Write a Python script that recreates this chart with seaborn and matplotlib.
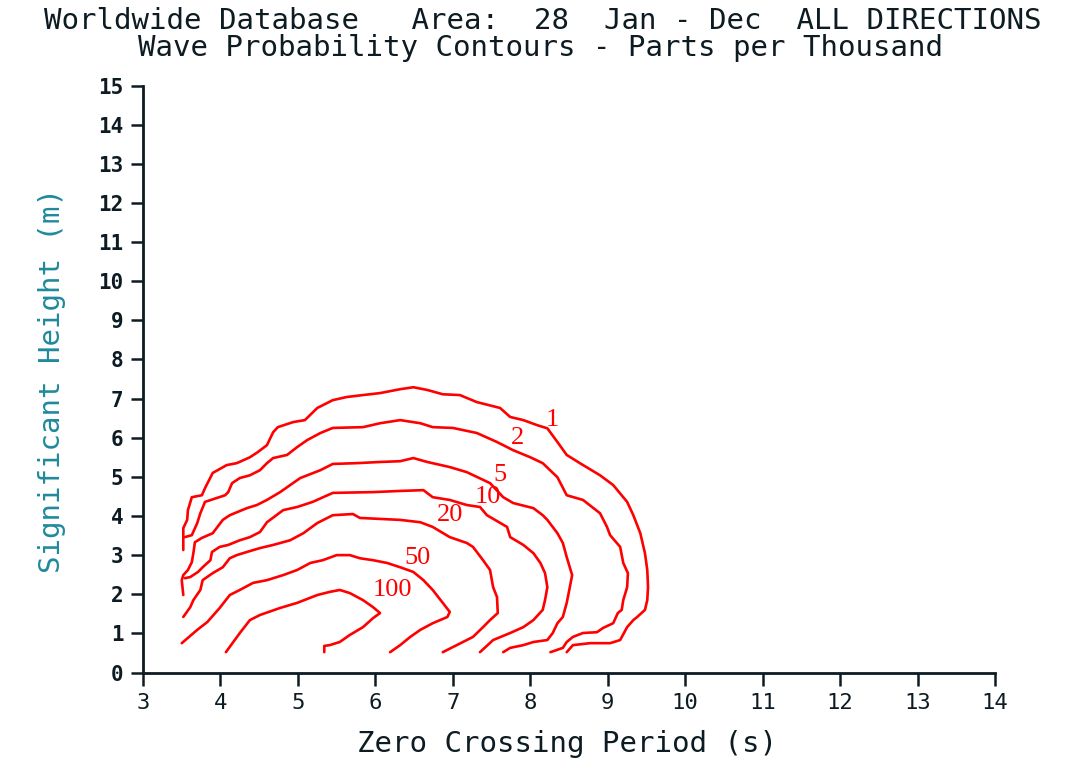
import pandas as pd
import seaborn as sns
import matplotlib
import matplotlib.pyplot as plt

sns.set_style('ticks')
matplotlib.rcParams['font.family'] = ['DejaVu Sans Mono']

# contour levels (parts per thousand)
levels = ['1', '2', '5', '10', '20', '50', '100']

# each contour traced as zero crossing period (s) / significant height (m)
t_1 = [3.52, 3.52, 3.52, 3.57, 3.58, 3.63, 3.76, 3.80, 3.90, 4.08, 4.21, 4.38, 4.48, 4.60,
       4.68, 4.74, 4.94, 5.09, 5.25, 5.45, 5.63, 5.84, 6.06, 6.32, 6.49, 6.67, 6.87, 7.09,
       7.31, 7.61, 7.74, 7.91, 8.09, 8.22, 8.35, 8.47, 8.64, 8.90, 9.07, 9.25, 9.33, 9.42,
       9.48, 9.51, 9.52, 9.51, 9.48, 9.38, 9.33, 9.25, 9.16, 9.03, 8.77, 8.55, 8.47]
h_1 = [3.13, 3.46, 3.69, 3.90, 4.15, 4.48, 4.53, 4.71, 5.10, 5.30, 5.35, 5.50, 5.63, 5.81,
       6.14, 6.27, 6.40, 6.45, 6.76, 6.96, 7.04, 7.09, 7.14, 7.24, 7.29, 7.22, 7.11, 7.09,
       6.91, 6.76, 6.53, 6.45, 6.32, 6.24, 5.89, 5.56, 5.35, 5.04, 4.79, 4.36, 4.02, 3.56,
       3.05, 2.62, 2.18, 1.85, 1.60, 1.42, 1.34, 1.16, 0.83, 0.75, 0.75, 0.70, 0.52]

t_2 = [3.54, 3.63, 3.70, 3.74, 3.80, 4.06, 4.10, 4.15, 4.25, 4.38, 4.51, 4.60, 4.68, 4.86,
       4.99, 5.12, 5.29, 5.45, 5.84, 6.06, 6.32, 6.58, 6.74, 7.00, 7.31, 7.57, 7.78, 8.00,
       8.16, 8.35, 8.47, 8.68, 8.90, 8.99, 9.03, 9.16, 9.20, 9.26, 9.25, 9.20, 9.18, 9.13,
       9.07, 8.94, 8.86, 8.68, 8.55, 8.47, 8.42, 8.26]
h_2 = [3.46, 3.51, 3.82, 4.07, 4.36, 4.53, 4.61, 4.84, 4.97, 5.04, 5.17, 5.35, 5.48, 5.56,
       5.76, 5.94, 6.12, 6.25, 6.27, 6.37, 6.45, 6.37, 6.27, 6.25, 6.12, 5.89, 5.68, 5.50,
       5.35, 4.99, 4.53, 4.41, 4.07, 3.72, 3.51, 3.21, 2.80, 2.54, 2.18, 1.85, 1.60, 1.52,
       1.26, 1.14, 1.03, 1.01, 0.91, 0.78, 0.63, 0.52]

t_5 = [3.52, 3.50, 3.52, 3.58, 3.63, 3.65, 3.67, 3.76, 3.90, 3.93, 4.03, 4.12, 4.34, 4.47,
       4.60, 4.77, 5.03, 5.29, 5.45, 5.76, 6.06, 6.32, 6.49, 6.67, 6.96, 7.18, 7.48, 7.65,
       7.78, 8.04, 8.16, 8.22, 8.35, 8.42, 8.47, 8.54, 8.51, 8.47, 8.42, 8.35, 8.29, 8.22,
       8.04, 7.91, 7.74, 7.65]
h_5 = [1.98, 2.36, 2.49, 2.62, 2.82, 3.05, 3.33, 3.44, 3.56, 3.64, 3.90, 4.02, 4.20, 4.28,
       4.41, 4.61, 4.97, 5.17, 5.33, 5.35, 5.38, 5.40, 5.48, 5.38, 5.25, 5.12, 4.84, 4.48,
       4.33, 4.20, 4.02, 3.90, 3.56, 3.31, 2.95, 2.49, 2.18, 1.78, 1.42, 1.26, 1.01, 0.83,
       0.78, 0.70, 0.63, 0.52]

t_10 = [3.54, 3.61, 3.71, 3.77, 3.87, 3.89, 3.99, 4.10, 4.25, 4.38, 4.51, 4.60, 4.81, 4.99,
        5.19, 5.45, 5.97, 6.32, 6.62, 6.74, 6.96, 7.18, 7.35, 7.44, 7.70, 7.74, 7.91, 8.04,
        8.13, 8.19, 8.22, 8.19, 8.16, 8.04, 7.91, 7.74, 7.52, 7.35]
h_10 = [2.41, 2.44, 2.57, 2.69, 2.87, 3.08, 3.21, 3.26, 3.38, 3.46, 3.59, 3.84, 4.15, 4.23,
        4.36, 4.59, 4.61, 4.64, 4.66, 4.48, 4.41, 4.28, 4.23, 4.02, 3.72, 3.46, 3.26, 3.05,
        2.80, 2.54, 2.18, 1.85, 1.60, 1.34, 1.16, 1.01, 0.83, 0.52]

t_20 = [3.52, 3.61, 3.65, 3.74, 3.77, 3.90, 4.03, 4.12, 4.21, 4.34, 4.51, 4.68, 4.90, 5.07,
        5.25, 5.45, 5.71, 5.80, 6.32, 6.58, 6.74, 6.96, 7.18, 7.26, 7.39, 7.48, 7.52, 7.57,
        7.58, 7.48, 7.39, 7.26, 7.13, 7.00, 6.87]
h_20 = [1.42, 1.67, 1.85, 2.11, 2.36, 2.54, 2.69, 2.92, 3.00, 3.08, 3.18, 3.26, 3.38, 3.56,
        3.82, 4.02, 4.05, 3.95, 3.90, 3.84, 3.72, 3.46, 3.31, 3.21, 2.87, 2.62, 2.18, 1.93,
        1.52, 1.34, 1.16, 0.91, 0.78, 0.65, 0.52]

t_50 = [3.50, 3.70, 3.83, 3.99, 4.12, 4.25, 4.42, 4.60, 4.81, 4.99, 5.16, 5.32, 5.50, 5.67,
        5.80, 5.97, 6.15, 6.32, 6.49, 6.62, 6.74, 6.87, 6.96, 6.93, 6.74, 6.58, 6.45, 6.32,
        6.19]
h_50 = [0.75, 1.09, 1.29, 1.65, 1.98, 2.11, 2.29, 2.36, 2.49, 2.62, 2.80, 2.87, 3.00, 3.00,
        2.92, 2.87, 2.80, 2.69, 2.57, 2.36, 2.11, 1.78, 1.55, 1.42, 1.26, 1.09, 0.91, 0.70,
        0.52]

t_100 = [4.07, 4.25, 4.38, 4.51, 4.77, 4.99, 5.25, 5.41, 5.54, 5.67, 5.84, 5.97, 6.06, 5.97,
         5.84, 5.67, 5.54, 5.41, 5.34, 5.34]
h_100 = [0.52, 1.01, 1.34, 1.47, 1.65, 1.78, 1.98, 2.06, 2.11, 2.03, 1.85, 1.67, 1.52, 1.39,
         1.16, 0.96, 0.78, 0.70, 0.68, 0.52]

# where each level number is written
label_t = [8.29, 7.84, 7.61, 7.45, 6.96, 6.55, 6.22]
label_h = [6.45, 5.99, 5.04, 4.48, 4.02, 2.92, 2.11]

periods = [t_1, t_2, t_5, t_10, t_20, t_50, t_100]
heights = [h_1, h_2, h_5, h_10, h_20, h_50, h_100]

rows = []
for lev, ts, hs in zip(levels, periods, heights):
    for i, (t, h) in enumerate(zip(ts, hs)):
        rows.append({'level': lev, 'step': i, 'period': t, 'height': h})
data = pd.DataFrame(rows)

ink = '#0d1b22'

fig = plt.figure(figsize=(10.81, 7.6), dpi=100)
ax = fig.add_axes([0.1323, 0.1151, 0.7882, 0.7724])

sns.lineplot(data=data, x='period', y='height', units='level', estimator=None,
             sort=False, color='#ff0000', lw=1.9, ax=ax)

for lev, t, h in zip(levels, label_t, label_h):
    ax.text(t, h, lev, color='#ff0000', fontsize=19, family='Liberation Serif',
            ha='center', va='center')

ax.set_xlim(3, 14)
ax.set_ylim(0, 15)
ax.set_xticks(range(3, 15))
ax.set_yticks(range(0, 16))
sns.despine(ax=ax)
for side in ['left', 'bottom']:
    ax.spines[side].set_color(ink)
    ax.spines[side].set_linewidth(2)

ax.tick_params(axis='both', direction='out', length=9, width=1.8, color=ink, labelcolor=ink)
ax.tick_params(axis='x', labelsize=16, pad=6)
ax.tick_params(axis='y', labelsize=15, pad=5)
for lbl in ax.get_yticklabels():
    lbl.set_fontweight('bold')

ax.set_xlabel('Zero Crossing Period (s)', fontsize=21, color=ink)
ax.xaxis.set_label_coords(0.498, -0.098)
ax.set_ylabel('Significant Height (m)', fontsize=21, color='#1f8a9c')
ax.yaxis.set_label_coords(-0.090, 0.498)

fig.text(0.502, 0.973, 'Worldwide Database   Area:  28  Jan - Dec  ALL DIRECTIONS',
         fontsize=21, color=ink, ha='center', va='center')
fig.text(0.500, 0.937, 'Wave Probability Contours - Parts per Thousand',
         fontsize=21, color=ink, ha='center', va='center')

fig.savefig('out.png', dpi=100)
